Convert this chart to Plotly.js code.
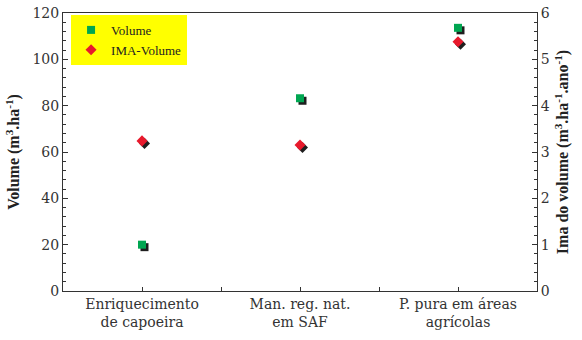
<!DOCTYPE html>
<html>
<head>
<meta charset="utf-8">
<script src="https://cdn.plot.ly/plotly-3.0.1.min.js"></script>
<style>html,body{margin:0;padding:0;background:#fff;}#chart{width:582px;height:340px;}</style>
</head>
<body>
<div id="chart"></div>
<script>
// ---- data ----
const categories = ["Enriquecimento<br>de capoeira", "Man. reg. nat.<br>em SAF", "P. pura em áreas<br>agrícolas"];
const catIndex = [0, 1, 2];
const volume = [20, 83.2, 113.6];          // m3.ha-1 (left axis)
const imaVolume = [3.24, 3.15, 5.38];      // m3.ha-1.ano-1 (right axis)
const seriesNames = ["Volume", "IMA-Volume"];

// ---- geometry / style ----
const W = 582, H = 340;
const M = {l: 63, r: 45, t: 13, b: 49};
const plotW = W - M.l - M.r, plotH = H - M.t - M.b;
const X0 = -0.5, X1 = 2.5, Y1 = 120, Y2 = 6;
const shadowPx = 2.5;
const sx = shadowPx * (X1 - X0) / plotW;
const sy = shadowPx * Y1 / plotH;
const sy2 = shadowPx * Y2 / plotH;
const FONT = "Liberation Serif";
const TICKFONT = "DejaVu Serif";
const shadowColor = "#1e1e1e";

const traces = [
  {x: catIndex, y: volume, xaxis: "x", yaxis: "y", type: "scatter", mode: "markers",
   marker: {symbol: "square", size: 8, color: shadowColor}, showlegend: false, hoverinfo: "skip"},
  {x: catIndex, y: imaVolume, xaxis: "x", yaxis: "y4", type: "scatter", mode: "markers",
   marker: {symbol: "diamond", size: 8.5, color: shadowColor}, showlegend: false, hoverinfo: "skip"},
  {x: catIndex, y: volume, xaxis: "x2", yaxis: "y2", type: "scatter", mode: "markers", name: seriesNames[0],
   marker: {symbol: "square", size: 8, color: "#00a651"}},
  {x: catIndex, y: imaVolume, xaxis: "x2", yaxis: "y3", type: "scatter", mode: "markers", name: seriesNames[1],
   marker: {symbol: "diamond", size: 8.5, color: "#e8192c"}}
];

const axisFont = {family: TICKFONT, size: 14, color: "#333"};
const layout = {
  width: W, height: H,
  margin: M,
  paper_bgcolor: "#fff", plot_bgcolor: "#fff",
  font: {family: FONT, size: 15, color: "#333"},
  showlegend: true,
  legend: {x: 0.017, y: 0.993, xanchor: "left", yanchor: "top", bgcolor: "#ffff00",
           font: {family: FONT, size: 13, color: "#222"}, itemwidth: 30, tracegroupgap: 0,
           borderwidth: 0},
  xaxis: {range: [X0 - sx, X1 - sx], visible: false, fixedrange: true},
  yaxis: {range: [sy, Y1 + sy], visible: false, fixedrange: true},
  yaxis4: {overlaying: "y", range: [sy2, Y2 + sy2], visible: false, fixedrange: true},
  xaxis2: {overlaying: "x", anchor: "y2", side: "bottom", range: [X0, X1],
           tickmode: "array", tickvals: catIndex, ticktext: categories,
           ticks: "inside", ticklen: 4, tickcolor: "#333",
           minor: {tickmode: "array", tickvals: [0.5, 1.5], ticks: "inside", ticklen: 4, tickcolor: "#333"},
           showline: true, linecolor: "#333", linewidth: 1, mirror: true,
           showgrid: false, zeroline: false, tickfont: axisFont, fixedrange: true},
  yaxis2: {overlaying: "y", anchor: "x2", side: "left", range: [0, Y1], dtick: 20,
           ticks: "inside", ticklen: 5, tickcolor: "#333",
           minor: {dtick: 4, ticks: "inside", ticklen: 3, tickcolor: "#333"},
           showline: true, linecolor: "#333", linewidth: 1,
           showgrid: false, zeroline: false, tickfont: axisFont, fixedrange: true,
           title: {text: "<b>Volume (m<sup>3</sup>.ha<sup>-1</sup>)</b>", standoff: 8,
                   font: {family: FONT, size: 16, color: "#222"}}},
  yaxis3: {overlaying: "y", anchor: "x2", side: "right", range: [0, Y2], dtick: 1,
           ticks: "inside", ticklen: 5, tickcolor: "#333",
           minor: {dtick: 0.2, ticks: "inside", ticklen: 3, tickcolor: "#333"},
           showline: true, linecolor: "#333", linewidth: 1,
           showgrid: false, zeroline: false, tickfont: axisFont, fixedrange: true,
           title: {text: "<b>Ima do volume (m<sup>3</sup>.ha<sup>-1</sup>.ano<sup>-1</sup>)</b>", standoff: 8,
                   font: {family: FONT, size: 16, color: "#222"}}}
};

Plotly.newPlot("chart", traces, layout, {displayModeBar: false, staticPlot: true});
</script>
</body>
</html>
